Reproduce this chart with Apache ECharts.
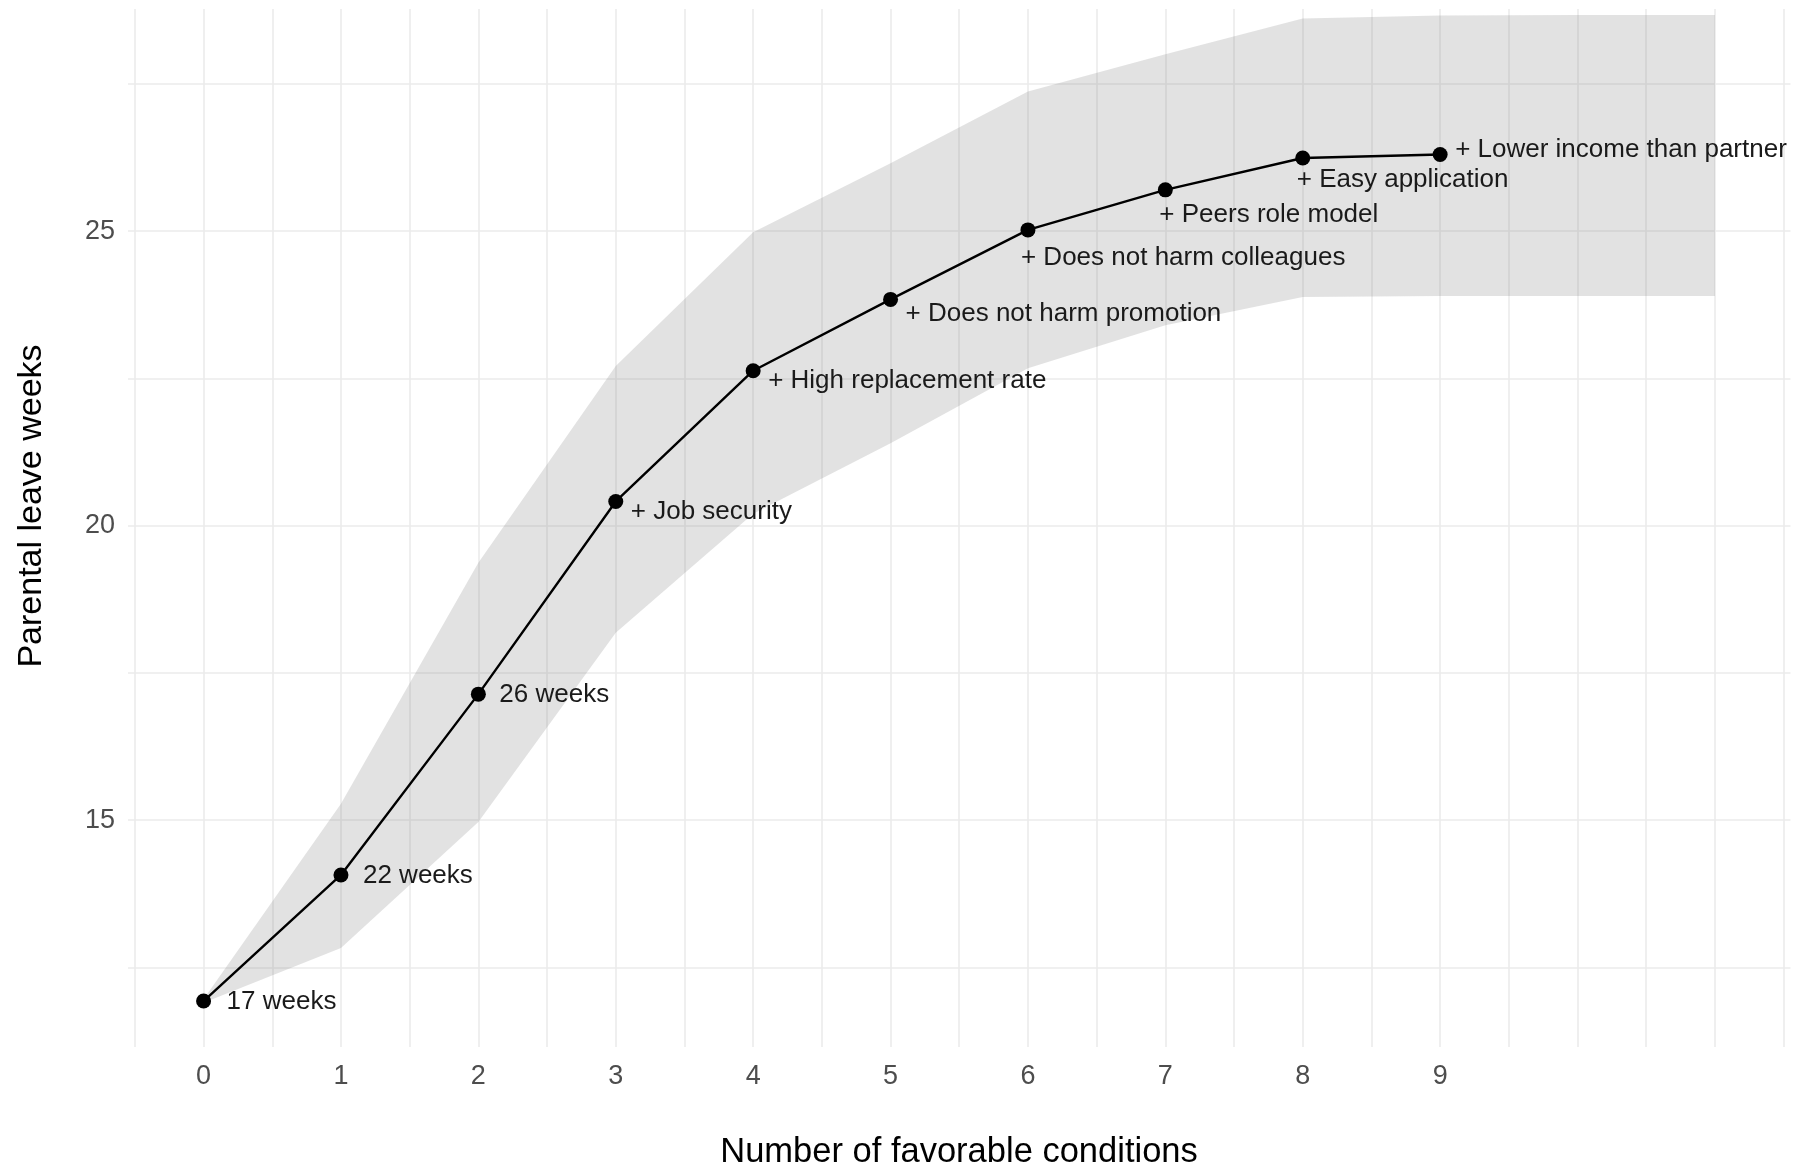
<!DOCTYPE html>
<html>
<head>
<meta charset="utf-8">
<script src="https://cdn.jsdelivr.net/npm/echarts@6/dist/echarts.min.js"></script>
<style>
  html, body { margin: 0; padding: 0; background: #ffffff; }
  #chart { width: 1793px; height: 1171px; }
</style>
</head>
<body>
<div id="chart"></div>
<script>
// Predicted parental leave by number of favorable conditions
const conditions = [0, 1, 2, 3, 4, 5, 6, 7, 8, 9];
const leaveWeeks = [11.93, 14.07, 17.14, 20.41, 22.63, 23.84, 25.02, 25.70, 26.24, 26.30];
const pointLabels = [
  '17 weeks',
  '22 weeks',
  '26 weeks',
  '+ Job security',
  '+ High replacement rate',
  '+ Does not harm promotion',
  '+ Does not harm colleagues',
  '+ Peers role model',
  '+ Easy application',
  '+ Lower income than partner'
];

// Uncertainty band, held flat beyond the last condition
const bandX = [0, 1, 2, 3, 4, 5, 6, 7, 8, 9, 10, 11];
const bandLower = [11.90, 12.83, 14.97, 18.18, 20.20, 21.40, 22.67, 23.40, 23.88, 23.90, 23.90, 23.90];
const bandUpper = [11.96, 15.28, 19.37, 22.71, 24.98, 26.15, 27.37, 28.00, 28.61, 28.66, 28.67, 28.67];

// Axis breaks and tick labels
const xGridBreaks = [-0.5, 0, 0.5, 1, 1.5, 2, 2.5, 3, 3.5, 4, 4.5, 5, 5.5, 6, 6.5, 7, 7.5, 8, 8.5, 9, 9.5, 10, 10.5, 11, 11.5];
const xTickLabels = [0, 1, 2, 3, 4, 5, 6, 7, 8, 9];
const yGridBreaks = [12.5, 15, 17.5, 20, 22.5, 25, 27.5];
const yTickLabels = [15, 20, 25];

// Label placement next to each point (pixels: right, down)
const labelOffsets = [[23, 1], [22, 1], [21, 1], [15, 10], [15, 10], [15, 14], [-7, 28], [-6, 25], [-6, 22], [15, -5]];

const FONT = '"Liberation Sans", Arial, Helvetica, sans-serif';
const GRID_COLOR = '#ebebeb';

const chart = echarts.init(document.getElementById('chart'), null, { renderer: 'canvas' });

const lineData = conditions.map((x, i) => ({
  value: [x, leaveWeeks[i]],
  label: { show: true, formatter: pointLabels[i] }
}));

const option = {
  backgroundColor: '#ffffff',
  animation: false,
  grid: { left: 128, right: 2.5, top: 9, bottom: 124, containLabel: false },
  xAxis: {
    type: 'value',
    min: -0.55,
    max: 11.55,
    axisLine: { show: false },
    axisTick: { show: false, customValues: xGridBreaks },
    axisLabel: {
      customValues: xTickLabels,
      color: '#4d4d4d',
      fontFamily: FONT,
      fontSize: 27,
      margin: 16
    },
    splitLine: { show: true, lineStyle: { color: GRID_COLOR, width: 1.6 } }
  },
  yAxis: {
    type: 'value',
    min: 11.15,
    max: 28.77,
    axisLine: { show: false },
    axisTick: { show: false, customValues: yGridBreaks },
    axisLabel: {
      customValues: yTickLabels,
      color: '#4d4d4d',
      fontFamily: FONT,
      fontSize: 27,
      margin: 13
    },
    splitLine: { show: true, lineStyle: { color: GRID_COLOR, width: 1.6 } }
  },
  // axis titles
  graphic: [
    {
      type: 'text',
      x: 959,
      y: 1152,
      style: {
        text: 'Number of favorable conditions',
        font: '34.5px ' + FONT,
        fill: '#000000',
        align: 'center',
        verticalAlign: 'middle',
        textAlign: 'center',
        textVerticalAlign: 'middle'
      }
    },
    {
      type: 'text',
      x: 32,
      y: 506,
      rotation: Math.PI / 2,
      style: {
        text: 'Parental leave weeks',
        font: '34px ' + FONT,
        fill: '#000000',
        align: 'center',
        verticalAlign: 'middle',
        textAlign: 'center',
        textVerticalAlign: 'middle'
      }
    }
  ],
  series: [
    {
      // shaded band drawn as one polygon through the axis scales
      type: 'custom',
      silent: true,
      z: 1,
      data: [[bandX[0], bandLower[0]]],
      encode: { x: 0, y: 1 },
      renderItem: function (params, api) {
        const pts = [];
        for (let i = 0; i < bandX.length; i++) pts.push(api.coord([bandX[i], bandUpper[i]]));
        for (let i = bandX.length - 1; i >= 0; i--) pts.push(api.coord([bandX[i], bandLower[i]]));
        return {
          type: 'polygon',
          shape: { points: pts },
          style: { fill: 'rgba(128,128,128,0.23)', stroke: null }
        };
      }
    },
    {
      type: 'line',
      z: 3,
      data: lineData,
      symbol: 'circle',
      symbolSize: 15,
      showSymbol: true,
      itemStyle: { color: '#000000' },
      lineStyle: { color: '#000000', width: 2.4 },
      label: {
        show: true,
        position: 'inside',
        align: 'left',
        verticalAlign: 'middle',
        color: '#1a1a1a',
        fontFamily: FONT,
        fontSize: 26
      },
      labelLayout: function (params) {
        const off = labelOffsets[params.dataIndex];
        return { dx: off[0], dy: off[1], hideOverlap: false };
      },
      emphasis: { disabled: true }
    }
  ]
};

chart.setOption(option);
</script>
</body>
</html>
